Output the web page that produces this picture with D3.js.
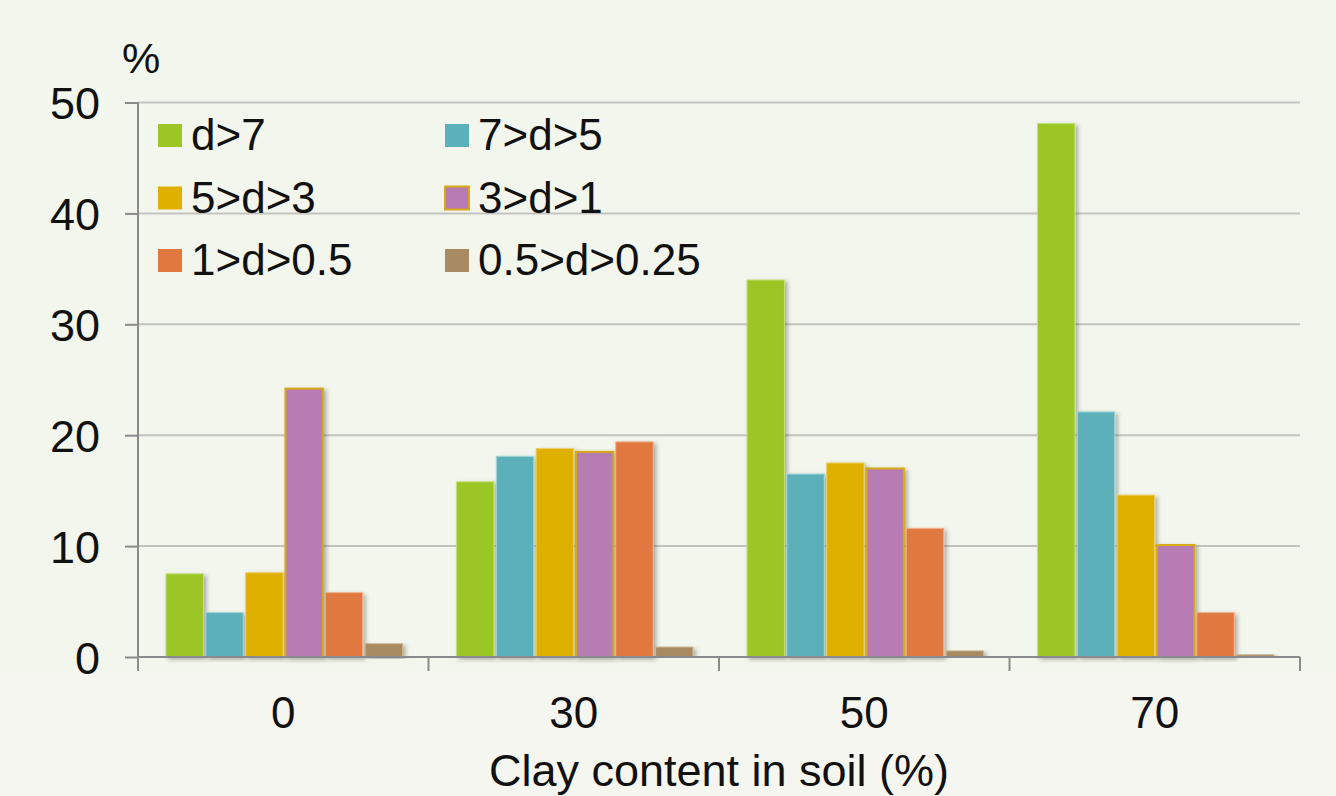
<!DOCTYPE html>
<html>
<head>
<meta charset="utf-8">
<script src="https://cdn.jsdelivr.net/npm/d3@7"></script>
<style>
  html, body { margin: 0; padding: 0; background: #f3f6ec; }
  svg { display: block; font-family: "Liberation Sans", Arial, sans-serif; }
</style>
</head>
<body>
<svg id="chart" width="1336" height="796"></svg>
<script>
// Clay content groups (x axis)
const categories = ["0", "30", "50", "70"];
// Aggregate size classes (mm)
const series = ["d>7", "7>d>5", "5>d>3", "3>d>1", "1>d>0.5", "0.5>d>0.25"];
// Share of each size class (%) per clay content group, in series order
const valuesClay0  = [7.5, 4.0, 7.6, 24.2, 5.8, 1.2];
const valuesClay30 = [15.8, 18.1, 18.8, 18.5, 19.4, 0.9];
const valuesClay50 = [34.0, 16.5, 17.5, 17.0, 11.6, 0.55];
const valuesClay70 = [48.1, 22.1, 14.6, 10.1, 4.0, 0.2];
const yTicks = [0, 10, 20, 30, 40, 50];

const colors = ["#9bc625", "#5bb0ba", "#dfb000", "#b77bb3", "#e07840", "#a88b62"];
const strokes = ["#c4e07a", "#a7d5da", "#eccf6a", "#d6aa14", "#f0b08c", "#cdb792"];

const rows = [valuesClay0, valuesClay30, valuesClay50, valuesClay70].map((vals, i) => ({
  cat: categories[i],
  vals: vals.map((v, j) => ({ key: series[j], idx: j, value: v }))
}));

const svg = d3.select("#chart");
const W = 1336, H = 796;
const plotLeft = 138, plotRight = 1300, plotTop = 102.5, plotBottom = 657;

// backgrounds
svg.append("rect").attr("x", 0).attr("y", 0).attr("width", W).attr("height", H).attr("fill", "#f3f6ec");
svg.append("rect").attr("x", 0).attr("y", 672).attr("width", W).attr("height", H - 672).attr("fill", "#f6f6f0");

const defs = svg.append("defs");
const f = defs.append("filter").attr("id", "shadow").attr("x", "-20%").attr("y", "-5%").attr("width", "150%").attr("height", "115%");
f.append("feDropShadow").attr("dx", 2.5).attr("dy", 2).attr("stdDeviation", 2.2)
  .attr("flood-color", "#000").attr("flood-opacity", 0.3);

const x0 = d3.scaleBand().domain(categories).range([plotLeft, plotRight]).padding(0);
const x1 = d3.scaleBand().domain(series).range([28, x0.bandwidth() - 26]).paddingInner(0.06);
const y = d3.scaleLinear().domain([0, 50]).range([plotBottom, plotTop]);

// gridlines
svg.append("g")
  .selectAll("line")
  .data(yTicks.filter(t => t > 0))
  .join("line")
  .attr("x1", plotLeft).attr("x2", plotRight)
  .attr("y1", d => y(d)).attr("y2", d => y(d))
  .attr("stroke", "#c3c3c0").attr("stroke-width", 2);

// bars
const groups = svg.append("g")
  .selectAll("g")
  .data(rows)
  .join("g")
  .attr("transform", d => `translate(${x0(d.cat)},0)`);

groups.selectAll("rect")
  .data(d => d.vals)
  .join("rect")
  .attr("x", d => x1(d.key))
  .attr("y", d => y(d.value))
  .attr("width", x1.bandwidth())
  .attr("height", d => y(0) - y(d.value))
  .attr("fill", d => colors[d.idx])
  .attr("stroke", d => strokes[d.idx])
  .attr("stroke-width", d => d.idx === 3 ? 2 : 1)
  .attr("filter", "url(#shadow)");

// y axis
const yAxis = d3.axisLeft(y).tickValues(yTicks).tickSize(13).tickPadding(25).tickFormat(d3.format("d"));
const yg = svg.append("g").attr("transform", `translate(${plotLeft},0)`).call(yAxis);
yg.select(".domain").attr("stroke", "#8a8a8a").attr("stroke-width", 2).attr("d", `M0,${plotTop}V${plotBottom}`);
yg.selectAll(".tick line").attr("stroke", "#8a8a8a").attr("stroke-width", 2);
yg.selectAll(".tick text").attr("font-size", 45).attr("fill", "#111").attr("dy", "0.36em")
  .attr("font-family", "Liberation Sans, Arial, sans-serif");

// x axis: baseline with separators between groups
const xg = svg.append("g");
xg.append("line").attr("x1", plotLeft).attr("x2", plotRight).attr("y1", plotBottom).attr("y2", plotBottom)
  .attr("stroke", "#8a8a8a").attr("stroke-width", 2);
const bounds = categories.map(c => x0(c)).concat([x0(categories[categories.length - 1]) + x0.bandwidth()]);
xg.selectAll("line.sep").data(bounds).join("line").attr("class", "sep")
  .attr("x1", d => d).attr("x2", d => d).attr("y1", plotBottom).attr("y2", plotBottom + 14)
  .attr("stroke", "#8a8a8a").attr("stroke-width", 2);
xg.selectAll("text").data(categories).join("text")
  .attr("x", d => x0(d) + x0.bandwidth() / 2)
  .attr("y", 728)
  .attr("text-anchor", "middle")
  .attr("font-size", 44)
  .attr("fill", "#111")
  .text(d => d);

// axis titles
svg.append("text").attr("x", (plotLeft + plotRight) / 2).attr("y", 786).attr("text-anchor", "middle")
  .attr("font-size", 45).attr("fill", "#111").text("Clay content in soil (%)");
svg.append("text").attr("x", 122).attr("y", 73).attr("font-size", 43).attr("fill", "#111").text("%");

// legend: two columns, three rows
const legend = svg.append("g");
const lg = legend.selectAll("g").data(series).join("g")
  .attr("transform", (d, i) => `translate(${i % 2 === 0 ? 158 : 445},${124 + Math.floor(i / 2) * 62.5})`);
lg.append("rect").attr("width", 24).attr("height", 23)
  .attr("fill", (d, i) => colors[i])
  .attr("stroke", (d, i) => i === 3 ? strokes[i] : "none")
  .attr("stroke-width", 2);
lg.append("text").attr("x", 33).attr("y", 26)
  .attr("font-size", 44).attr("fill", "#111").text(d => d);
</script>
</body>
</html>
